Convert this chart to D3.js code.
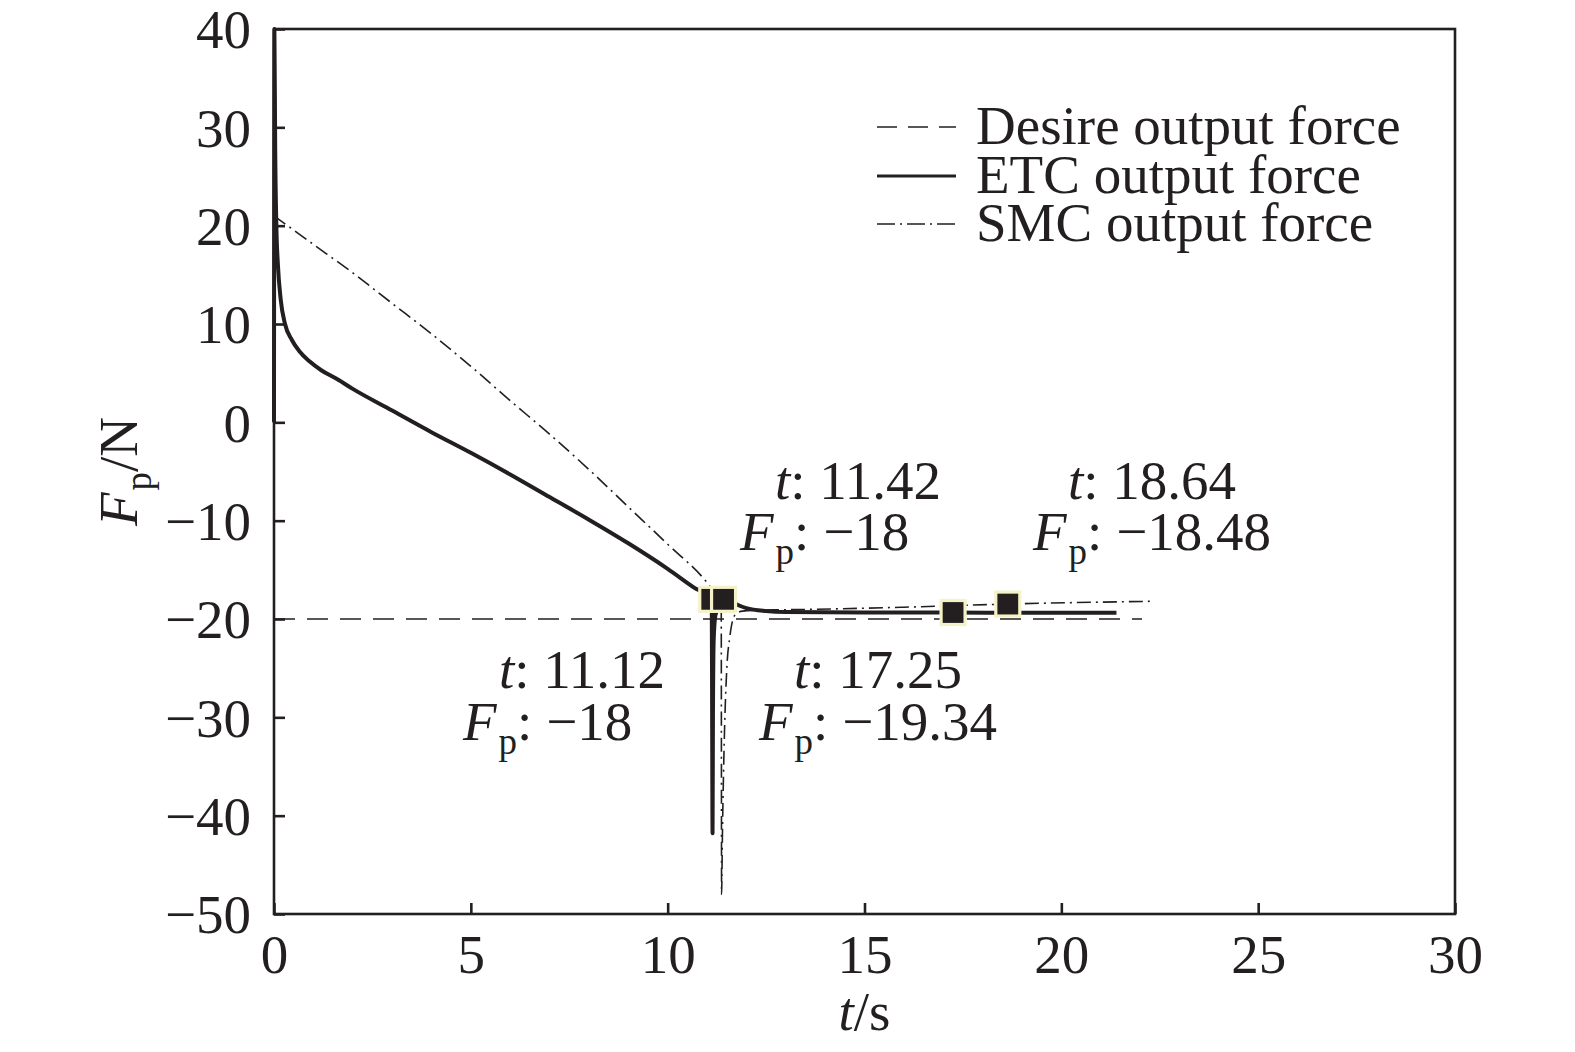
<!DOCTYPE html>
<html><head><meta charset="utf-8">
<script src="https://cdn.jsdelivr.net/npm/d3@7"></script>
<style>
html,body{margin:0;padding:0;background:#fff;}
svg text{font-family:"Liberation Serif","Times New Roman",serif;fill:#231f20;}
</style></head>
<body><svg id="c" width="1575" height="1052"></svg>
<script>
// ---- data ----
const xTicks = [0,5,10,15,20,25,30];
const yTicks = [40,30,20,10,0,-10,-20,-30,-40,-50];
const tickLabel = v => v < 0 ? "\u2212" + Math.abs(v) : String(v);

const desiredT = [0, 22.05];
const desiredF = [-20, -20];

const etcT = [0,0.01,0.03,0.06,0.1,0.17,0.28,0.45,0.65,0.9,1.2,1.6,2.0,3.0,4.0,5.0,6.0,7.0,8.0,9.0,10.0,10.65,11.12,11.13,11.14,11.15,11.17,11.22,11.35,11.5,11.7,12.0,12.5,13.0,15.0,17.25,19.0,21.4];
const etcF = [0,40,28,20,16,12.5,10,8.4,7.2,6.2,5.3,4.4,3.4,1.2,-1.0,-3.1,-5.3,-7.6,-9.9,-12.3,-14.9,-16.75,-18,-30,-41.8,-30,-22,-19.5,-18.5,-18.2,-18.45,-18.9,-19.2,-19.3,-19.35,-19.34,-19.37,-19.37];

const smcT = [0,1,2,3,4,5,6,7,8,9,10,10.99,11.3,11.36,11.37,11.39,11.44,11.5,11.58,11.71,11.9,12.3,13.0,16.0,18.64,22.26];
const smcF = [21,18.1,15.2,12.1,9.0,5.7,2.2,-1.2,-4.8,-8.6,-12.4,-16.25,-17.9,-18.3,-48,-42.2,-32,-25.2,-21.8,-19.6,-19.2,-19.1,-19.06,-18.8,-18.48,-18.2];

const markT = [11.12, 11.42, 17.25, 18.64];
const markF = [-18, -18, -19.34, -18.48];
const markFLabel = ["\u221218", "\u221218", "\u221219.34", "\u221218.48"];
// label layout (pixel anchors of each two-line datatip label)
const labelPos = [[499,688,463,740],[775,499,740,550],[794,688,759,740],[1068,499,1033,550]];

const legendNames = ["Desire output force","ETC output force","SMC output force"];

// ---- layout ----
const W=1575,H=1052;
const L=274,R=1455,T=29,B=914;
const ink="#231f20";
const FS=55;
const svg=d3.select("#c");
const x=d3.scaleLinear().domain([0,30]).range([L,R]);
const y=d3.scaleLinear().domain([-50,40]).range([B,T]);

const dashDesired="21,12";
const dashSmc="14,5,2,5";

// series
const lineGen=d3.line().x(d=>x(d[0])).y(d=>y(d[1])).curve(d3.curveMonotoneX);
const zip=(a,b)=>a.map((v,i)=>[v,b[i]]);

svg.append("path").attr("d",lineGen(zip(desiredT,desiredF))).attr("fill","none")
  .attr("stroke",ink).attr("stroke-width",1.6).attr("stroke-dasharray",dashDesired);
svg.append("path").attr("d",lineGen(zip(smcT,smcF))).attr("fill","none")
  .attr("stroke",ink).attr("stroke-width",1.6).attr("stroke-dasharray",dashSmc);
svg.append("path").attr("d",lineGen(zip(etcT,etcF))).attr("fill","none")
  .attr("stroke",ink).attr("stroke-width",4).attr("stroke-linejoin","round");

// axes (box + inward ticks on left/bottom)
const gx=svg.append("g").attr("transform",`translate(0,${B})`)
  .call(d3.axisBottom(x).tickValues(xTicks).tickSize(-11).tickPadding(25).tickFormat(tickLabel));
const gy=svg.append("g").attr("transform",`translate(${L},0)`)
  .call(d3.axisLeft(y).tickValues(yTicks).tickSize(-11).tickPadding(23).tickFormat(tickLabel));
[gx,gy].forEach(g=>{
  g.select(".domain").remove();
  g.selectAll(".tick line").attr("stroke",ink).attr("stroke-width",2.6);
  g.selectAll(".tick text").attr("font-size",FS).attr("fill",ink)
    .style("font-family",'"Liberation Serif",serif');
});
gx.selectAll(".tick text").attr("dy","0").attr("y",59);
gy.selectAll(".tick text").attr("dy","0.34em");
svg.append("rect").attr("x",L).attr("y",T).attr("width",R-L).attr("height",B-T)
  .attr("fill","none").attr("stroke",ink).attr("stroke-width",2.6);

// markers
svg.selectAll("rect.mk").data(markT).enter().append("rect").attr("class","mk")
  .attr("x",(d)=>x(d)-12).attr("y",(d,i)=>y(markF[i])-12)
  .attr("width",24).attr("height",24)
  .attr("fill",ink).attr("stroke","#f5f2c8").attr("stroke-width",3.2);

// helper for "F_p" styled text
function fpText(sel, rest){
  sel.append("tspan").attr("font-style","italic").text("F");
  sel.append("tspan").attr("font-size",37).attr("dy",14).attr("dx",2).text("p");
  sel.append("tspan").attr("dy",-14).text(rest);
}

// datatip labels
markT.forEach((t,i)=>{
  const p=labelPos[i];
  const t1=svg.append("text").attr("x",p[0]).attr("y",p[1]).attr("font-size",FS);
  t1.append("tspan").attr("font-style","italic").text("t");
  t1.append("tspan").text(": "+t.toFixed(2));
  const t2=svg.append("text").attr("x",p[2]).attr("y",p[3]).attr("font-size",FS);
  fpText(t2,": "+markFLabel[i]);
});

// legend
const legY=[127,176,224];
const legDash=["20,11",null,"18,5,2,5"];
const legW=[1.6,3,1.6];
legendNames.forEach((n,i)=>{
  const ln=svg.append("line").attr("x1",877).attr("x2",956).attr("y1",legY[i]).attr("y2",legY[i])
    .attr("stroke",ink).attr("stroke-width",legW[i]);
  if(legDash[i]) ln.attr("stroke-dasharray",legDash[i]);
  svg.append("text").attr("x",976).attr("y",legY[i]+17).attr("font-size",FS).text(n);
});

// axis titles
const xt=svg.append("text").attr("x",(L+R)/2).attr("y",1030).attr("text-anchor","middle").attr("font-size",FS);
xt.append("tspan").attr("font-style","italic").text("t");
xt.append("tspan").text("/s");
const yt=svg.append("text").attr("transform",`translate(137,${(T+B)/2}) rotate(-90)`)
  .attr("text-anchor","middle").attr("font-size",FS);
fpText(yt,"/N");
</script></body></html>
